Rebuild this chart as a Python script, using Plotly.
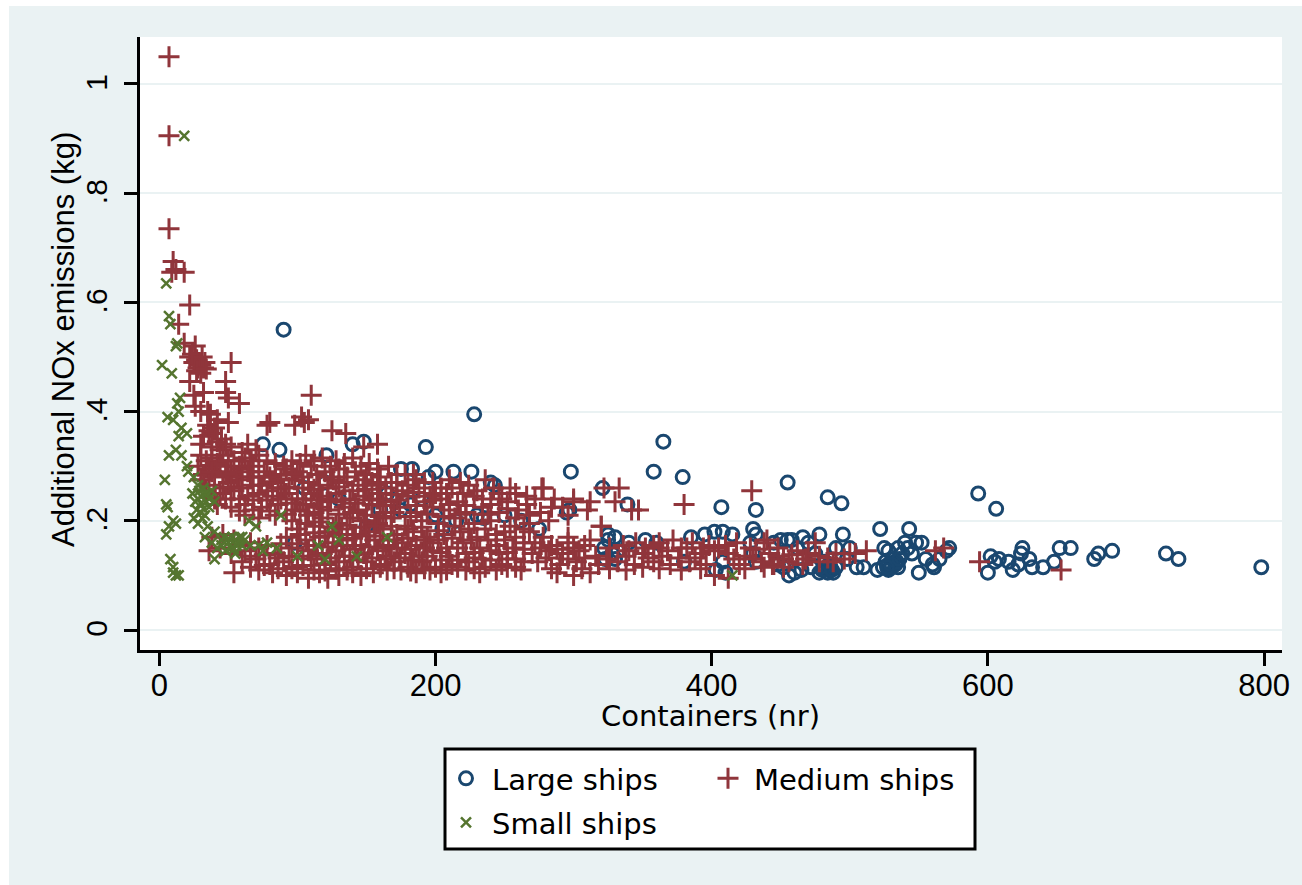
import plotly.graph_objects as go

large_ships = [
(90,.55),(228,.395),(365,.345),(358,.29),(379,.28),(298,.29),(321,.26),(339,.23),(407,.225),(432,.22),(455,.27),(484,.243),(494,.232),(593,.25),(606,.222),
(193,.335),(148,.345),(140,.34),(75,.34),(87,.33),(121,.32),(200,.29),(213,.29),(226,.29),(175,.295),(183,.295),(195,.28),(240,.27),(243,.265),(297,.22),(295,.215),
(200,.21),(215,.2),(230,.21),(235,.205),(250,.21),(262,.2),(275,.185),(190,.24),(175,.22),(130,.24),(160,.22),(98,.16),(105,.26),(120,.27),(165,.25),(182,.23),(205,.185),(150,.19),
(325,.175),(330,.17),(322,.15),(328,.14),(323,.13),(330,.13),(360,.16),(352,.165),(380,.125),(385,.17),(395,.175),(402,.18),(408,.18),(415,.175),(403,.11),(410,.105),(408,.125),
(430,.185),(432,.175),(428,.16),(430,.14),(432,.125),(445,.16),(450,.165),(455,.165),(448,.12),(452,.115),(460,.105),(465,.11),(458,.165),(462,.15),(466,.17),(478,.175),(472,.115),
(480,.11),(485,.11),(488,.105),(485,.12),(482,.125),(490,.15),(495,.175),(500,.15),(498,.13),(505,.115),(510,.115),(520,.11),(522,.185),(525,.15),(528,.145),(528,.12),(530,.115),
(535,.115),(532,.13),(535,.15),(540,.16),(543,.185),(548,.16),(552,.16),(545,.14),(555,.13),(550,.105),(560,.12),(565,.13),(570,.145),(572,.15),(600,.105),(602,.135),(608,.13),
(615,.125),(618,.11),(622,.12),(625,.15),(624,.14),(632,.115),(640,.115),(648,.125),(652,.15),(660,.15),(677,.13),(680,.14),(690,.145),(729,.14),(738,.13),(798,.115),
(456,.10),(470,.16),(475,.14),(486,.115),(484,.105),(524,.115),(526,.125),(533,.12),(538,.14),(542,.15),(561,.115),(605,.125),(630,.13),
(478,.105),(482,.11),(487,.11),(490,.115),(528,.11),(530,.12),(534,.125),(527,.115),(536,.13),(325,.165),(332,.145),(340,.16),
]

medium_ships = [
(7,1.05),(7,.905),(7,.735),(10,.675),(18,.655),(9,.655),(12,.66),(22,.595),(14,.56),(18,.525),(26,.52),(22,.5),(25,.49),(30,.485),(33,.49),(28,.48),(52,.49),(30,.47),(22,.455),(48,.455),
(48,.435),(32,.435),(25,.43),(50,.425),(58,.415),(26,.41),(30,.40),(35,.40),(37,.395),(42,.385),(50,.38),(35,.375),(38,.36),(32,.355),(45,.35),(110,.43),(80,.38),(78,.375),(98,.375),
(103,.39),(108,.385),(105,.38),(125,.365),(135,.36),(158,.34),(148,.335),(64,.34),(70,.33),(30,.34),(38,.335),(44,.33),(52,.335),(60,.325),
(27,.495),(29,.49),(31,.5),(32,.48),(27,.475),(34,.478),(24,.505),(36,.365),(40,.37),(42,.345),(48,.34),
(30,.32),(38,.315),(46,.32),(54,.31),(62,.315),(72,.32),(84,.305),(96,.31),(106,.32),(118,.315),(128,.31),(140,.315),(152,.305),(166,.30),(178,.285),
(28,.30),(36,.295),(44,.30),(52,.29),(60,.295),(68,.30),(76,.29),(84,.285),(92,.295),(100,.29),(110,.30),(120,.29),(130,.295),(142,.29),(150,.285),(160,.28),(172,.27),(186,.275),(198,.27),(210,.275),
(30,.275),(40,.28),(50,.27),(58,.275),(66,.28),(74,.265),(82,.27),(90,.26),(98,.275),(108,.27),(116,.265),(126,.275),(134,.27),(144,.265),(154,.27),(164,.26),(176,.255),(188,.26),(200,.25),(212,.26),(224,.265),(236,.275),(246,.25),(258,.25),(278,.26),
(34,.255),(44,.25),(54,.255),(64,.245),(72,.25),(82,.245),(92,.25),(100,.24),(110,.25),(118,.245),(128,.25),(138,.24),(148,.245),(158,.24),(168,.235),(180,.245),(192,.235),(204,.24),(216,.235),(228,.245),(240,.23),(252,.235),(266,.23),(286,.24),(300,.235),
(42,.23),(52,.225),(62,.23),(74,.225),(86,.23),(98,.22),(106,.23),(116,.225),(124,.235),(134,.225),(144,.22),(154,.23),(164,.215),(174,.225),(186,.215),(198,.225),(210,.22),(222,.215),(234,.225),(246,.215),(260,.22),(276,.215),(296,.21),(312,.235),(330,.235),(342,.22),
(62,.21),(72,.205),(84,.21),(96,.20),(108,.21),(118,.205),(128,.195),(138,.205),(148,.20),(158,.195),(168,.205),(178,.19),(190,.20),(202,.195),(214,.205),(228,.195),(240,.20),(254,.19),(268,.195),(282,.20),(320,.19),
(100,.185),(112,.19),(122,.18),(132,.185),(142,.175),(152,.18),(162,.185),(172,.175),(184,.18),(194,.17),(206,.175),(218,.18),(230,.17),(244,.175),(258,.17),(268,.18),(296,.17),
(38,.17),(46,.175),(54,.165),(92,.17),(106,.165),(116,.17),(126,.16),(136,.165),(146,.155),(156,.165),(166,.155),(176,.16),(186,.155),(196,.16),(208,.15),(220,.16),(232,.15),(244,.155),(256,.15),(272,.16),(284,.155),(296,.16),(300,.15),(312,.165),(345,.16),(352,.15),(362,.15),(372,.165),(386,.16),(398,.155),(405,.15),(418,.16),(428,.15),(438,.16),
(36,.145),(44,.15),(52,.14),(62,.145),(72,.15),(84,.14),(96,.15),(108,.145),(118,.14),(128,.145),(138,.135),(148,.14),(158,.145),(168,.135),(178,.14),(188,.135),(198,.145),(210,.135),(222,.14),(234,.13),(246,.14),(258,.13),(270,.14),(282,.145),(292,.14),(304,.145),(316,.135),(340,.145),(350,.14),(368,.145),(378,.15),(392,.14),(402,.145),(412,.14),(424,.135),(442,.14),(452,.13),(462,.145),(470,.14),(478,.135),(490,.14),(496,.13),(512,.145),(562,.145),(568,.15),
(60,.125),(70,.13),(80,.12),(90,.125),(100,.115),(110,.13),(120,.12),(130,.125),(140,.115),(150,.125),(160,.12),(170,.125),(180,.115),(190,.125),(200,.115),(212,.12),(224,.125),(236,.115),(248,.12),(258,.115),(274,.125),(290,.12),(302,.125),(318,.12),(332,.125),(344,.12),(358,.125),(370,.12),(384,.125),(396,.12),(420,.12),(436,.125),(444,.12),(456,.125),(466,.12),(478,.125),(488,.125),(594,.125),
(54,.105),(72,.11),(82,.105),(92,.10),(100,.105),(108,.095),(116,.105),(122,.095),(130,.10),(136,.11),(146,.10),(155,.105),(165,.11),(175,.11),(186,.105),(196,.11),(208,.11),(222,.11),(232,.105),(252,.115),(288,.105),(300,.10),(312,.105),(338,.11),(378,.11),(402,.10),(412,.095),
(653,.11),(429,.255),(277,.26),(300,.24),(333,.26),(322,.26),(380,.23),(310,.22),(347,.22),(362,.16),(320,.19),(440,.165),(445,.12),(500,.14),(475,.16),
(34,.31),(42,.305),(50,.31),(58,.30),(66,.31),(78,.31),(90,.30),(102,.305),(112,.31),(124,.30),(134,.305),(146,.30),(158,.295),(172,.285),(184,.285),
(32,.285),(38,.29),(48,.285),(56,.28),(64,.29),(72,.28),(80,.28),(88,.275),(96,.285),(104,.28),(114,.285),(124,.28),(136,.28),(148,.275),(158,.265),(168,.27),(180,.265),(192,.27),(204,.26),(218,.27),(230,.255),(242,.26),(254,.26),(266,.245),
(36,.265),(46,.26),(52,.262),(60,.26),(68,.265),(78,.255),(86,.26),(94,.262),(104,.26),(112,.258),(122,.26),(130,.262),(140,.255),(150,.258),(160,.25),(172,.248),(184,.252),(196,.245),(208,.25),(220,.25),(234,.24),(248,.24),(272,.24),(292,.225),
(40,.24),(48,.24),(58,.24),(68,.238),(78,.238),(88,.24),(96,.232),(104,.24),(114,.238),(122,.24),(132,.238),(142,.232),(152,.238),(162,.228),(172,.238),(186,.228),(198,.238),(210,.23),(222,.228),(234,.212),(252,.222),(268,.21),(284,.225),
(58,.218),(68,.22),(80,.218),(92,.212),(102,.218),(112,.215),(122,.22),(130,.212),(140,.215),(150,.21),(160,.208),(170,.215),(182,.208),(194,.212),(206,.208),(218,.212),(238,.212),(258,.205),
(106,.195),(116,.198),(126,.188),(136,.192),(146,.188),(156,.19),(168,.19),(180,.185),(190,.188),(202,.182),(214,.19),(224,.185),(236,.185),(250,.18),(264,.185),
(102,.175),(112,.178),(120,.172),(130,.175),(140,.168),(150,.172),(160,.172),(170,.165),(180,.168),(192,.165),(202,.165),(212,.168),(226,.165),(238,.165),(250,.165),(264,.16),(278,.17),
(58,.155),(66,.16),(78,.155),(88,.158),(100,.158),(112,.155),(122,.152),(132,.155),(142,.148),(152,.152),(162,.15),(172,.15),(182,.148),(192,.15),(204,.142),(216,.15),(228,.142),(240,.145),(252,.142),(264,.148),(276,.15),(288,.148),(308,.155),(326,.15),(336,.155),(358,.155),(382,.15),(394,.15),(410,.155),(432,.148),(448,.15),
(66,.135),(76,.138),(86,.132),(94,.135),(104,.135),(114,.135),(124,.132),(134,.135),(144,.128),(154,.132),(164,.13),(174,.132),(184,.128),(194,.135),(204,.128),(216,.128),(228,.132),(240,.128),(252,.13),(264,.125),(280,.132),(296,.13),(308,.132),(324,.13),(338,.135),(354,.132),(364,.135),(376,.132),(388,.132),(416,.13),(430,.13),(448,.135),(458,.138),(468,.13),(484,.132),(504,.14),
(66,.115),(76,.118),(86,.112),(96,.112),(104,.118),(112,.11),(120,.108),(128,.112),(140,.105),(150,.112),(160,.115),(170,.112),(182,.108),(192,.112),(204,.105),(216,.115),(228,.112),(244,.11),(262,.11),(284,.112),(306,.112),(326,.112),(350,.115),(362,.112),(392,.112),(424,.112),(438,.115),(452,.115),
]

small_ships = [
(18,.905),(5,.635),(7,.575),(8,.56),(13,.525),(12,.52),(2,.485),(9,.47),(15,.425),(13,.415),(14,.40),(6,.39),(10,.385),(16,.37),(20,.36),(14,.355),(12,.33),(7,.32),(16,.32),(4,.275),
(20,.30),(21,.29),(25,.28),(28,.265),(32,.26),(24,.25),(30,.245),(35,.25),(5,.23),(6,.225),(27,.22),(30,.215),(25,.205),(33,.21),(28,.195),(10,.2),(7,.19),(5,.175),(12,.195),(35,.19),
(40,.18),(33,.17),(38,.16),(45,.165),(50,.16),(55,.165),(60,.155),(58,.17),(42,.15),(48,.145),(55,.14),(40,.13),(8,.13),(10,.115),(10,.105),(12,.10),(14,.10),(70,.19),(72,.155),(85,.15),
(88,.21),(100,.135),(115,.155),(120,.13),(125,.19),(130,.165),(165,.17),(143,.135),(415,.10),(78,.16),(65,.2),(75,.145),(28,.24),(34,.235),(36,.225),(31,.205),(52,.15),(56,.155),(47,.17),
(29,.255),(33,.25),(36,.24),(30,.232),(38,.255),(26,.235),(32,.222),(40,.235),(53,.17),(57,.16),(50,.168),(62,.165),(54,.148),(45,.155),(60,.17),(66,.155),
]

x_ticks = [0, 200, 400, 600, 800]
y_ticks = [0, .2, .4, .6, .8, 1]
y_labels = ["0", ".2", ".4", ".6", ".8", "1"]

BG = "#eaf2f3"
FONT = "Liberation Sans"
WIDE = "DejaVu Sans"

def add(name, pts, symbol, color, size, lw, legend="legend"):
    fig.add_trace(go.Scatter(
        x=[p[0] for p in pts], y=[p[1] for p in pts], mode="markers", name=name, legend=legend,
        marker=dict(symbol=symbol, size=size, color=color, line=dict(color=color, width=lw)),
    ))

fig = go.Figure()
add("Large ships", large_ships, "circle-open", "#1a476f", 13, 3)
add("Medium ships", medium_ships, "cross-thin", "#90353b", 15, 3)
add("Small ships", small_ships, "x-thin", "#55752f", 10, 2.5, "legend2")

W, H = 1302, 885
L, R, T, B = 140, 1282, 37, 650
px = lambda v: (v - L) / (R - L)
py = lambda v: 1 - (v - T) / (B - T)
legend_common = dict(
    orientation="h", x=px(440), xanchor="left", yanchor="top", bgcolor="rgba(0,0,0,0)",
    entrywidth=205, entrywidthmode="pixels", itemwidth=42,
    font=dict(family=WIDE, size=29), traceorder="normal",
)
fig.update_layout(
    width=W, height=H, autosize=False,
    margin=dict(l=L, r=W - R, t=T, b=H - B, pad=0),
    paper_bgcolor=BG, plot_bgcolor="white",
    font=dict(family=FONT, size=30, color="black"),
    showlegend=True,
    legend=dict(y=py(753), **legend_common),
    legend2=dict(y=py(797), **legend_common),
    xaxis=dict(
        range=[-14, 813], tickvals=x_ticks, ticks="outside", ticklen=13, tickwidth=3, tickcolor="black",
        ticklabelstandoff=-7,
        showline=True, linecolor="black", linewidth=3, showgrid=False, zeroline=False,
        tickfont=dict(family=FONT, size=31),
    ),
    yaxis=dict(
        range=[-0.0366, 1.086], tickvals=y_ticks, ticktext=y_labels, tickangle=-90,
        ticks="outside", ticklen=13, tickwidth=3, tickcolor="black", ticklabelstandoff=5, ticklabelshift=3,
        showline=True, linecolor="black", linewidth=3, showgrid=True, gridcolor=BG, gridwidth=2, zeroline=False,
        tickfont=dict(family=FONT, size=30),
    ),
    annotations=[
        dict(text="Containers (nr)", xref="paper", yref="paper", x=px(710), y=py(716), showarrow=False,
             xanchor="center", yanchor="middle", font=dict(family=WIDE, size=29)),
        dict(text="Additional NOx emissions (kg)", xref="paper", yref="paper", x=px(63), y=py(340), showarrow=False,
             textangle=-90, xanchor="center", yanchor="middle", font=dict(family=FONT, size=31)),
    ],
    shapes=[
        dict(type="rect", xref="paper", yref="paper", layer="above", x0=px(-2), x1=px(9), y0=py(H + 2), y1=py(-2),
             fillcolor="white", line=dict(width=0)),
        dict(type="rect", xref="paper", yref="paper", layer="above", x0=px(-2), x1=px(W + 2), y0=py(6), y1=py(-2),
             fillcolor="white", line=dict(width=0)),
        dict(type="rect", xref="paper", yref="paper", layer="above", x0=px(445), x1=px(975), y0=py(849), y1=py(749),
             fillcolor="white", line=dict(color="black", width=3)),
    ],
)

fig.write_html("out.html", config={"displayModeBar": False},
               post_script="document.body.style.margin='0';document.documentElement.style.overflow='hidden';")
